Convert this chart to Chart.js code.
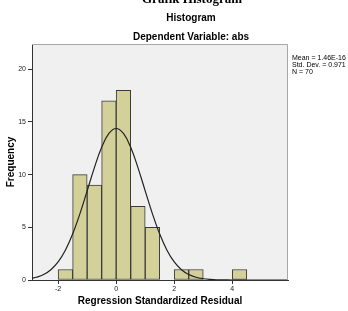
<!DOCTYPE html>
<html><head><meta charset="utf-8">
<script src="https://cdn.jsdelivr.net/npm/chart.js@4"></script>
<style>html,body{margin:0;padding:0;background:#fff}#w{width:348px;height:311px}</style>
</head><body><div id="w"><canvas id="c" width="348" height="311"></canvas></div>
<script>
// Histogram bins (centres, width 0.5) and frequencies
const binCenters = [-1.75,-1.25,-0.75,-0.25,0.25,0.75,1.25,1.75,2.25,2.75,3.25,3.75,4.25];
const frequencies = [1,10,9,17,18,7,5,0,1,1,0,0,1];
// Normal curve
const curveX = [-2.9,-2.75,-2.5,-2.25,-2,-1.75,-1.5,-1.25,-1,-0.75,-0.5,-0.25,0,0.25,0.5,0.75,1,1.25,1.5,1.75,2,2.25,2.5,2.75,3,3.25,3.5,3.75,4,4.5,5,5.5,5.9];
const curveY = [0.17,0.26,0.52,0.98,1.72,2.83,4.36,6.28,8.46,10.67,12.59,13.91,14.38,13.91,12.59,10.67,8.46,6.28,4.36,2.83,1.72,0.98,0.52,0.26,0.12,0.05,0.02,0.01,0,0,0,0,0];
const xTicks = [-2,0,2,4];
const yTicks = [0,5,10,15,20];
const titles = ["Grafik Histogram","Histogram","Dependent Variable: abs"];
const statLines = ["Mean = 1.46E-16","Std. Dev. = 0.971","N = 70"];

const extra = {
  id:'extra',
  beforeDraw(chart){
    const {ctx, chartArea:a} = chart;
    ctx.save();
    ctx.fillStyle = '#f0f0f0';
    ctx.fillRect(a.left, a.top, a.right-a.left, a.bottom-a.top);
    ctx.restore();
  },
  afterDraw(chart){
    const {ctx, chartArea:a} = chart;
    ctx.save();
    ctx.strokeStyle = '#a8a8a8'; ctx.lineWidth = 1;
    ctx.beginPath();
    ctx.moveTo(a.left, a.top+0.5); ctx.lineTo(a.right-0.5, a.top+0.5); ctx.lineTo(a.right-0.5, a.bottom);
    ctx.stroke();
    ctx.fillStyle = '#000'; ctx.textAlign='center'; ctx.textBaseline='alphabetic';
    ctx.font = 'bold 13px "Liberation Serif", serif';
    ctx.fillText(titles[0], 192, 3);
    ctx.font = 'bold 10px "Liberation Sans", Arial, sans-serif';
    ctx.fillText(titles[1], 191, 21);
    ctx.fillText(titles[2], 191, 40);
    ctx.textAlign='left';
    ctx.font = '7px "Liberation Sans", Arial, sans-serif';
    statLines.forEach((t,i)=>ctx.fillText(t, 292, 60+i*7));
    ctx.restore();
  }
};

new Chart(document.getElementById('c'), {
  type:'bar',
  data:{
    datasets:[
      {type:'line', data:curveX.map((x,i)=>({x, y:curveY[i]})), borderColor:'#222', borderWidth:1.2, pointRadius:0, tension:0.4, fill:false, order:0},
      {type:'bar', data:binCenters.map((x,i)=>({x, y:frequencies[i]})), backgroundColor:'#d4d09a', borderColor:'#3a3a3a', borderWidth:1, borderSkipped:false, barPercentage:1, categoryPercentage:1, order:1}
    ]
  },
  options:{
    responsive:false, animation:false, devicePixelRatio:1,
    layout:{padding:{left:0,right:60,top:44,bottom:0}},
    plugins:{legend:{display:false}, tooltip:{enabled:false}, title:{display:false}},
    scales:{
      x:{type:'linear', min:-2.9, max:5.92, offset:false,
        afterBuildTicks(s){ s.ticks = xTicks.map(v=>({value:v})); },
        afterFit(s){ s.height = 31; },
        grid:{display:true, drawOnChartArea:false, offset:false, tickLength:4, color:'#333', tickColor:'#333'},
        border:{display:true, color:'#333', width:1},
        ticks:{color:'#222', font:{size:7, family:'"Liberation Sans", Arial, sans-serif'}, padding:1, maxRotation:0},
        title:{display:true, text:'Regression Standardized Residual', color:'#000', font:{size:10, weight:'bold', family:'"Liberation Sans", Arial, sans-serif'}, padding:{top:4,bottom:4}}
      },
      y:{min:0, max:22.4,
        afterBuildTicks(s){ s.ticks = yTicks.map(v=>({value:v})); },
        afterFit(s){ s.width = 32; },
        grid:{display:true, drawOnChartArea:false, tickLength:4, color:'#333', tickColor:'#333'},
        border:{display:true, color:'#333', width:1},
        ticks:{color:'#222', font:{size:7, family:'"Liberation Sans", Arial, sans-serif'}, padding:2},
        title:{display:true, text:'Frequency', color:'#000', font:{size:10, weight:'bold', family:'"Liberation Sans", Arial, sans-serif'}, padding:{top:5,bottom:4}}
      }
    }
  },
  plugins:[extra]
});
</script></body></html>
